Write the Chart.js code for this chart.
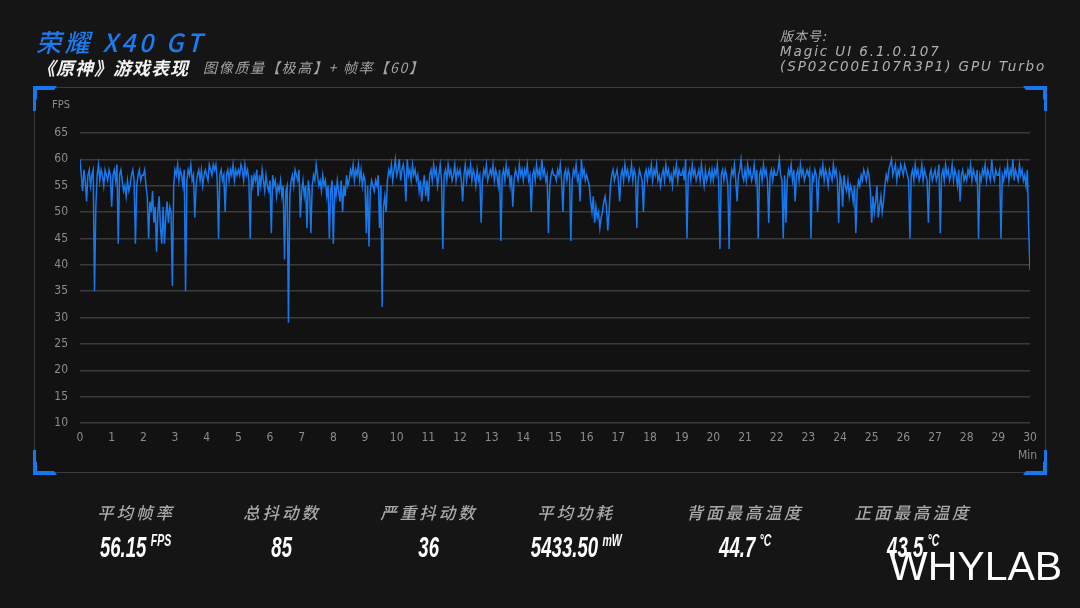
<!DOCTYPE html>
<html><head><meta charset="utf-8">
<script src="https://cdn.jsdelivr.net/npm/chart.js@4.4.1/dist/chart.umd.min.js"></script>
<style>
html,body{margin:0;padding:0;background:#151515;width:1080px;height:608px;overflow:hidden;}
body{position:relative;font-family:"Noto Sans CJK SC","Noto Sans",sans-serif;}
.t{position:absolute;white-space:nowrap;font-style:italic;}
#frame{position:absolute;left:34px;top:87px;width:1010px;height:384px;border:1.5px solid #3c3c3c;background:#121212;}
.corner{position:absolute;width:24px;height:25px;background:#1778ee;}
#c{position:absolute;left:0;top:0;}
.stat{position:absolute;text-align:center;width:200px;}
.lab{font-size:16.5px;color:#a9a9a9;font-style:italic;font-weight:500;letter-spacing:3px;}
.vw{margin-top:6px;height:34px;}
.val{display:inline-block;transform:scaleX(0.62);transform-origin:center;white-space:nowrap;font-family:"Liberation Sans",Arial,sans-serif;font-weight:bold;font-style:italic;color:#fff;}
.val .n{font-size:30px;}
.val .u{font-size:17px;vertical-align:top;position:relative;top:1px;margin-left:7px;}
</style></head>
<body>
<div id="frame"></div>
<div class="corner" style="left:33px;top:86px;clip-path:polygon(0 0,100% 0,88% 4px,70% 4px,4px 4px,4px 50%,3px 56%,3px 100%,0 100%);"></div>
<div class="corner" style="left:1023px;top:86px;clip-path:polygon(0 0,100% 0,100% 100%,calc(100% - 3px) 100%,calc(100% - 3px) 56%,calc(100% - 4px) 50%,calc(100% - 4px) 4px,30% 4px,12% 4px);"></div>
<div class="corner" style="left:33px;top:450px;clip-path:polygon(0 0,3px 0,3px 44%,4px 50%,4px calc(100% - 4px),70% calc(100% - 4px),88% calc(100% - 4px),100% 100%,0 100%);"></div>
<div class="corner" style="left:1023px;top:450px;clip-path:polygon(calc(100% - 3px) 0,100% 0,100% 100%,0 100%,12% calc(100% - 4px),30% calc(100% - 4px),calc(100% - 4px) calc(100% - 4px),calc(100% - 4px) 50%,calc(100% - 3px) 44%);"></div>

<canvas id="c" width="1080" height="608"></canvas>

<div class="t" style="left:36px;top:23px;font-size:25px;color:#1a7cf2;letter-spacing:3.6px;font-weight:500;">荣耀 X40 GT</div>
<div class="t" style="left:37px;top:54px;font-size:18px;color:#f2f2f2;font-weight:bold;letter-spacing:1px;">《原神》游戏表现</div>
<div class="t" style="left:203px;top:57px;font-size:14px;color:#a3a3a3;letter-spacing:1.7px;">图像质量【极高】+ 帧率【60】</div>
<div class="t" style="left:780px;top:26px;font-size:13px;color:#b0b0b0;letter-spacing:1px;">版本号:</div>
<div class="t" style="left:780px;top:43px;font-size:13.5px;color:#b0b0b0;letter-spacing:1.9px;font-family:'DejaVu Sans',sans-serif;">Magic UI 6.1.0.107</div>
<div class="t" style="left:780px;top:58px;font-size:13.5px;color:#b0b0b0;letter-spacing:1.9px;font-family:'DejaVu Sans',sans-serif;">(SP02C00E107R3P1) GPU Turbo</div>

<div class="t" style="left:52px;top:98px;font-size:11px;color:#8c8c8c;font-style:normal;font-family:'DejaVu Sans Condensed','DejaVu Sans',sans-serif;">FPS</div>
<div class="t" style="left:1018px;top:448px;font-size:12px;color:#8c8c8c;font-style:normal;font-family:'DejaVu Sans Condensed','DejaVu Sans',sans-serif;">Min</div>

<div id="stats"></div>
<div class="t" style="left:889px;top:543px;font-size:41px;color:#fff;font-style:normal;font-family:'Liberation Sans',Arial,sans-serif;">WHYLAB</div>

<script>
// FPS sampled every 2.5 seconds (24 samples per minute), 0:00 → 30:00
const sampleSeconds = 2.5;
const fps = [
  60,57,54,58,56,52,57,58,55,57,58,35,51,57,59,56,58,57,55,58,57,56,58,57,            // 0
  51,57,58,56,59,44,57,58,56,54,55,53,56,54,55,57,58,56,44,55,57,58,56,57,            // 1
  57,58,55,53,45,52,50,54,48,51,42.5,50,53,47,44,51,44,49,52,48,51,50,36,55,          // 2
  58,57,59,56,58,57,55,58,35,56,58,57,59,56,57,49,55,57,58,56,58,55,57,58,            // 3
  57,56,59,58,57,59,58,59,56,45,57,58,56,57,50,57,58,56,58,57,59,56,58,57,            // 4
  58,57,59,58,56,59,57,58,56,45,57,55,57,56,58,53,57,55,58,56,54,57,55,54,            // 5
  56,46,57,55,56,53,55,54,56,53,55,41,54,55,29,53,56,57,55,58,57,56,58,49,            // 6
  54,56,53,55,47,56,54,46,55,57,56,59,57,55,56,54,57,55,56,53,55,45,54,56,            // 7
  44,55,53,56,54,52,56,50,55,53,57,55,56,58,57,59,56,58,57,59,56,58,55,57,            // 8
  56,46,55,43.5,54,56,55,54,56,55,57,47,55,32,51,53,50,56,58,57,59,56,58,60,          // 9
  57,58,60,56,58,59,57,52,60,57,58,56,59,57,58,56,57,54,56,52,55,57,53,56,            // 10
  52,57,58,56,59,57,58,55,57,59,56,43,57,58,56,59,57,58,56,57,59,56,58,57,            // 11
  58,56,52,57,59,56,58,57,59,56,58,57,55,58,56,57,48,56,58,57,59,56,57,58,            // 12
  57,59,56,58,57,55,58,44.5,57,58,56,59,57,58,55,57,51,56,58,57,56,59,57,58,          // 13
  56,58,57,59,56,57,50,57,58,56,59,57,58,56,60,57,58,56,57,46,55,57,58,57,            // 14
  57,56,58,57,59,56,50,57,58,56,58,57,44.5,56,58,57,59,56,57,52,60,57,58,56,          // 15
  57,56,55,52,50,53,48,51,49,50,47,49,50,52,53,51,46.5,50,55,57,58,56,57,58,          // 16
  56,52,57,58,56,59,57,58,56,57,59,56,58,57,47,56,58,57,56,50,57,58,56,58,            // 17
  57,59,56,58,57,59,56,57,55,57,58,56,59,57,58,56,57,55,58,57,59,56,58,57,            // 18
  57,58,56,60,45,57,58,56,59,57,58,56,57,58,56,59,57,55,58,56,57,58,56,58,            // 19
  56,58,57,59,56,43,57,58,56,58,57,55,43,56,58,57,59,56,52,57,58,60,57,56,            // 20
  58,56,59,57,58,56,57,59,56,58,45,57,58,56,59,57,58,56,48,57,58,56,58,57,            // 21
  57,58,60,57,56,45,57,48,56,58,57,59,56,58,52,57,58,56,59,57,58,56,57,58,            // 22
  57,58,45,57,56,58,57,50,56,58,57,59,56,58,57,55,58,57,56,59,57,58,56,48,            // 23
  57,56,51,57,55,54,56,53,55,54,52,55,46,54,56,55,57,56,58,57,56,58,57,54,            // 24
  48,53,50,52,55,49,51,53,50,52,55,57,56,58,59,60,57,58,59,56,58,57,59,58,            // 25
  57,59,58,57,56,45,57,58,56,59,57,58,56,57,59,56,58,57,56,48,57,58,56,57,            // 26
  58,56,57,59,46,57,58,56,59,57,58,56,57,59,56,58,57,55,58,52,57,58,56,57,            // 27
  56,58,57,59,56,58,57,56,58,45,57,56,58,57,59,56,58,57,56,60,57,56,58,57,            // 28
  57,58,45,57,56,58,57,59,56,58,57,60,56,58,57,56,59,57,58,56,57,55,58,47,            // 29
  39                                                                                  // 30
];
const yTicks = {min: 10, max: 65, step: 5};
const xTicks = {min: 0, max: 30, step: 1};
const statLabels = ['平均帧率', '总抖动数', '严重抖动数', '平均功耗', '背面最高温度', '正面最高温度'];
const statValues = ['56.15', '85', '36', '5433.50', '44.7', '43.5'];
const statUnits = ['FPS', '', '', 'mW', '°C', '°C'];
const statCenters = [136, 282, 429, 576, 745, 913];

const pts = fps.map((v, i) => ({x: i * sampleSeconds / 60, y: v}));
const tickFont = {family: "'DejaVu Sans Condensed','DejaVu Sans',sans-serif", size: 12};

new Chart(document.getElementById('c'), {
  type: 'line',
  data: {datasets: [{data: pts, borderColor: '#1778ee', borderWidth: 1.5, pointRadius: 0, tension: 0, fill: false}]},
  options: {
    responsive: false, animation: false,
    layout: {padding: {left: 30, top: 133, right: 50, bottom: 155}},
    plugins: {legend: {display: false}, tooltip: {enabled: false}},
    scales: {
      x: {type: 'linear', min: xTicks.min, max: xTicks.max,
          ticks: {stepSize: xTicks.step, color: '#8c8c8c', font: tickFont, padding: 8, autoSkip: false, maxRotation: 0},
          grid: {display: false, drawTicks: false}, border: {display: false},
          afterFit: s => { s.height = 30; }},
      y: {min: yTicks.min, max: yTicks.max,
          ticks: {stepSize: yTicks.step, color: '#8c8c8c', font: tickFont, padding: 12},
          grid: {color: '#3a3a3a', lineWidth: 1.5, drawTicks: false}, border: {display: false},
          afterFit: s => { s.width = 50; }}
    }
  }
});

const st = document.getElementById('stats');
statLabels.forEach((l, i) => {
  const d = document.createElement('div');
  d.className = 'stat';
  d.style.left = (statCenters[i] - 100) + 'px';
  d.style.top = '500px';
  d.innerHTML = '<div class="lab">' + l + '</div><div class="vw"><span class="val"><span class="n">' + statValues[i] + '</span>' +
    (statUnits[i] ? '<span class="u">' + statUnits[i] + '</span>' : '') + '</span></div>';
  st.appendChild(d);
});
</script>
</body></html>
